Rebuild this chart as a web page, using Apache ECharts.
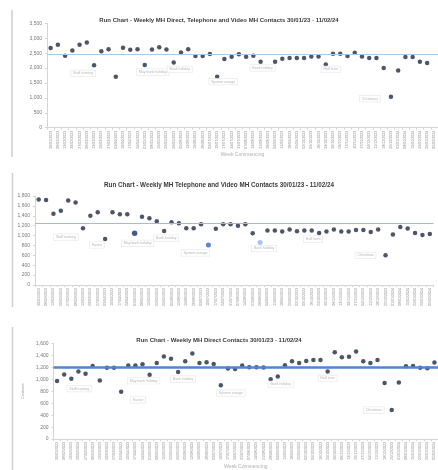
<!DOCTYPE html>
<html>
<head>
<meta charset="utf-8">
<script src="https://cdn.jsdelivr.net/npm/echarts/dist/echarts.min.js"></script>
<style>
  html, body { margin: 0; padding: 0; background: #fff; }
  #chart { width: 438px; height: 470px; }
</style>
</head>
<body>
<div id="chart"></div>
<script>
// week commencing dates (shared by all three run charts)
var weeks = [
  '30/01/2023','06/02/2023','13/02/2023','20/02/2023','27/02/2023','06/03/2023','13/03/2023','20/03/2023','27/03/2023','03/04/2023',
  '10/04/2023','17/04/2023','24/04/2023','01/05/2023','08/05/2023','15/05/2023','22/05/2023','29/05/2023','05/06/2023','12/06/2023',
  '19/06/2023','26/06/2023','03/07/2023','10/07/2023','17/07/2023','24/07/2023','31/07/2023','07/08/2023','14/08/2023','21/08/2023',
  '28/08/2023','04/09/2023','11/09/2023','18/09/2023','25/09/2023','02/10/2023','09/10/2023','16/10/2023','23/10/2023','30/10/2023',
  '06/11/2023','13/11/2023','20/11/2023','27/11/2023','04/12/2023','11/12/2023','18/12/2023','25/12/2023','01/01/2024','08/01/2024',
  '15/01/2024','22/01/2024','29/01/2024','05/02/2024'
];

// chart 1 - direct, telephone and video contacts
var totalContacts = [
  2670, 2780, 2410, 2590, 2780, 2860, 2090, 2560, 2630, 1710,
  2680, 2610, 2630, 2100, 2620, 2700, 2620, 2190, 2520, 2630,
  2400, 2400, 2470, 1710, 2300, 2380, 2460, 2380, 2410, 2210,
  null, 2210, 2310, 2340, 2340, 2340, 2390, 2390, 2120, 2480,
  2480, 2400, 2510, 2390, 2340, 2340, 2000, 1040, 1920, 2370,
  2370, 2210, 2170, null
];
// chart 2 - telephone and video contacts
var phoneVideo = [
  1730, 1720, 1440, 1500, 1710, 1670, 1150, 1400, 1470, 930,
  1470, 1430, 1430, 1045, 1380, 1350, 1290, 1090, 1270, 1250,
  1150, 1150, 1230, 810, 1140, 1230, 1230, 1200, 1230, 1045,
  860, 1100, 1100, 1080, 1120, 1085, 1100, 1100, 1050, 1080,
  1125, 1080, 1080, 1110, 1110, 1070, 1120, 600, 1020, 1175,
  1145, 1050, 1010, 1030
];
// chart 3 - direct (face to face) contacts
var directContacts = [
  970, 1080, 1010, 1130, 1090, 1220, 980, 1190, 1190, 790,
  1230, 1230, 1250, 1075, 1270, 1380, 1340, 1120, 1300, 1430,
  1270, 1285, 1255, 900, 1180, 1170, 1230, 1200, 1200, 1195,
  1000, 1045, 1235, 1300, 1270, 1305, 1320, 1320, 1130, 1450,
  1365, 1375, 1465, 1300, 1270, 1320, 935, 485, 945, 1215,
  1220, 1190, 1185, 1280
];

var medians = [2470, 1250, 1195];

// annotation text boxes: week index, text, offset from the point
var notes1 = [[6,'Staff training',[-11,8]],[13,'May bank holiday',[8,7]],[17,'Bank holiday',[6,7]],[23,'System outage',[6,5]],
              [29,'Bank holiday',[2,6]],[38,'Half term',[5,5]],[47,'Christmas',[-21,2]]];
var notes2 = [[6,'Staff training',[-17,9]],[9,'Easter',[-8,6]],[13,'May bank holiday',[3,10]],[17,'Bank holiday',[2,7]],
              [23,'System outage',[-13,8]],[30,'Bank holiday',[4,6]],[38,'Half term',[-6,6]],[47,'Christmas',[-20,0]]];
var notes3 = [[2,'Staff training',[8,10]],[9,'Easter',[17,8]],[13,'May bank holiday',[-6,6]],[17,'Bank holiday',[5,7]],
              [23,'System outage',[10,8]],[30,'Bank holiday',[10,5]],[38,'Half term',[0,7]],[47,'Christmas',[-18,0]]];

var titles = [
  'Run Chart - Weekly MH Direct, Telephone and Video MH Contacts 30/01/23 - 11/02/24',
  'Run Chart - Weekly MH Telephone and Video MH Contacts 30/01/23 - 11/02/24',
  'Run Chart - Weekly MH Direct Contacts 30/01/23 - 11/02/24'
];

var dotColor = '#1f2b45';

function buildData(values, notes, special) {
  var data = values.map(function (v) { return { value: v }; });
  notes.forEach(function (n) {
    data[n[0]].label = {
      show: true, position: 'inside', offset: n[2], formatter: n[1],
      fontSize: 3.6, color: '#a6a6a6', borderColor: '#e4e4e4', borderWidth: 0.6,
      padding: [1, 2], backgroundColor: '#fff'
    };
  });
  (special || []).forEach(function (s) {
    data[s[0]].itemStyle = { color: s[1] };
    data[s[0]].symbolSize = s[2];
  });
  return data;
}

var grids = [
  { left: 47, top: 23.3, width: 397, height: 104.4 },
  { left: 35, top: 196, width: 398.5, height: 89 },
  { left: 53.5, top: 343.3, width: 387, height: 101.7 }
];
var yMax = [3500, 1800, 1600];
var yStep = [500, 200, 200];
var medianStyle = [
  { color: '#a9c9ea', width: 1 },
  { color: '#aab9cf', width: 1 },
  { color: '#4f84d6', width: 2.5 }
];

var myChart = echarts.init(document.getElementById('chart'));

var option = {
  animation: false,
  backgroundColor: '#fff',
  textStyle: { fontFamily: 'Liberation Sans, Arial, sans-serif' },
  title: titles.map(function (t, i) {
    return {
      text: t, left: 'center', top: [12, 177, 332.5][i],
      textStyle: { fontSize: [6, 6.3, 6][i], fontWeight: 'bold', color: '#3a3a3a' }
    };
  }),
  grid: grids,
  xAxis: grids.map(function (g, i) {
    return {
      type: 'category', gridIndex: i, data: weeks, boundaryGap: true,
      name: i === 1 ? '' : 'Week Commencing', nameLocation: 'middle', nameGap: 24,
      nameTextStyle: { fontSize: 5, color: '#b0b0b0' },
      axisLine: { lineStyle: { color: '#d4d4d4', width: 1 } },
      axisTick: { show: true, length: 2, lineStyle: { color: '#d4d4d4' } },
      axisLabel: { interval: 0, rotate: 90, fontSize: 3.6, color: '#8a8a8a', margin: 3 }
    };
  }),
  yAxis: grids.map(function (g, i) {
    return {
      type: 'value', gridIndex: i, min: 0, max: yMax[i], interval: yStep[i],
      name: i === 2 ? 'Contacts' : '', nameLocation: 'middle', nameGap: 20,
      nameTextStyle: { fontSize: 4, color: '#a0a0a0' },
      splitLine: { show: false },
      axisLine: { show: true, lineStyle: { color: '#d4d4d4', width: 1 } },
      axisTick: { show: true, length: 2, lineStyle: { color: '#d4d4d4' } },
      axisLabel: { fontSize: 5, color: '#777', margin: 5 }
    };
  }),
  series: [
    { type: 'scatter', xAxisIndex: 0, yAxisIndex: 0, symbolSize: 4.5,
      itemStyle: { color: dotColor }, data: buildData(totalContacts, notes1) },
    { type: 'scatter', xAxisIndex: 1, yAxisIndex: 1, symbolSize: 4.5,
      itemStyle: { color: dotColor },
      data: buildData(phoneVideo, notes2, [[13, '#1a2f66', 5.5], [23, '#3565c8', 5], [30, '#8fb6e6', 5]]) },
    { type: 'scatter', xAxisIndex: 2, yAxisIndex: 2, symbolSize: 4.5,
      itemStyle: { color: dotColor }, data: buildData(directContacts, notes3) }
  ].concat(medians.map(function (m, i) {
    return {
      type: 'line', xAxisIndex: i, yAxisIndex: i, data: [], silent: true,
      markLine: {
        silent: true, symbol: 'none', label: { show: false },
        lineStyle: { color: medianStyle[i].color, width: medianStyle[i].width, type: 'solid' },
        data: [{ yAxis: m }]
      }
    };
  })),
  graphic: [
    { type: 'line', shape: { x1: 12, y1: 10, x2: 12, y2: 157 }, style: { stroke: '#cfcfcf', lineWidth: 1.5 } },
    { type: 'line', shape: { x1: 12.5, y1: 173, x2: 12.5, y2: 307 }, style: { stroke: '#cfcfcf', lineWidth: 1.5 } },
    { type: 'line', shape: { x1: 12.5, y1: 327, x2: 12.5, y2: 470 }, style: { stroke: '#cfcfcf', lineWidth: 1.5 } }
  ]
};

myChart.setOption(option);
</script>
</body>
</html>
